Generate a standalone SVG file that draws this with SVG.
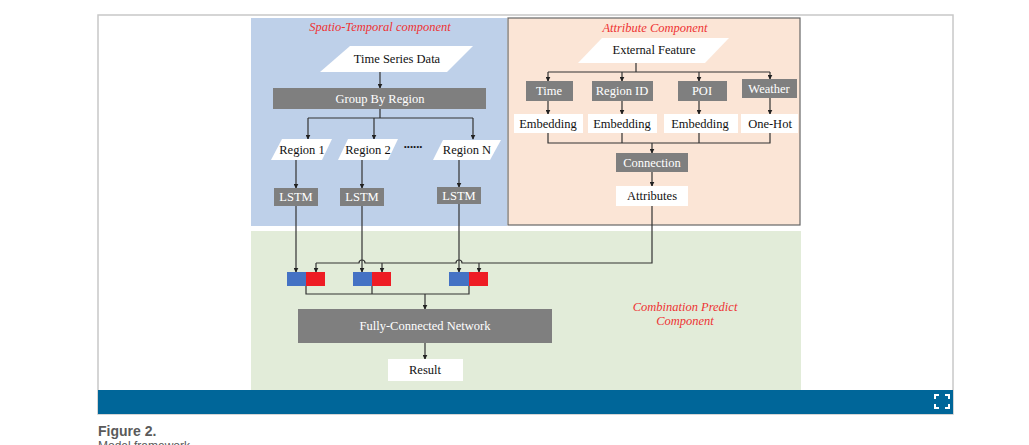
<svg xmlns="http://www.w3.org/2000/svg" width="1029" height="445" viewBox="0 0 1029 445">
<defs>
<marker id="ah" viewBox="0 0 8 8" refX="7" refY="4" markerWidth="5" markerHeight="5" orient="auto" markerUnits="userSpaceOnUse">
<path d="M0,0 L8,4 L0,8 z" fill="#222"/>
</marker>
<style>
.t{font-family:"Liberation Serif","Times New Roman",serif;font-size:12.5px;text-anchor:middle;fill:#111}
.w{fill:#fff}
.ttl{font-family:"Liberation Serif","Times New Roman",serif;font-size:12.5px;font-style:italic;text-anchor:middle;fill:#ee3333}
.g{fill:#7f7f7f}
.wb{fill:#fff}
.ln{fill:none;stroke:#333;stroke-width:1.2}
.ar{fill:none;stroke:#333;stroke-width:1.2;marker-end:url(#ah)}
.bl{fill:#4472c4}
.rd{fill:#ee1c24}
</style>
</defs>
<rect x="0" y="0" width="1029" height="445" fill="#fff"/>
<g id="frame">
<rect x="98" y="15" width="855" height="399" fill="#fff" stroke="#c8c8c8" stroke-width="1.5"/>
<rect x="98" y="390" width="855" height="24" fill="#006699"/>
<path d="M935,399 v-4 h4 M945,395 h4 v4 M949,404 v4 h-4 M939,408 h-4 v-4" fill="none" stroke="#fff" stroke-width="2"/>
</g>
<g id="panels">
<rect x="251" y="18" width="256" height="208" fill="#bed0e9"/>
<rect x="508" y="18" width="292" height="207" fill="#fbe5d6" stroke="#666" stroke-width="1.2"/>
<rect x="251" y="231" width="550" height="159" fill="#e2ecd9"/>
<text class="ttl" x="380" y="31">Spatio-Temporal component</text>
<text class="ttl" x="655" y="32">Attribute Component</text>
<text class="ttl" x="685" y="311">Combination Predict</text>
<text class="ttl" x="685" y="325">Component</text>
</g>
<g id="connectors">
<path class="ar" d="M380,72 V88"/>
<path class="ln" d="M380,109 V118 M308,118 H473"/>
<path class="ar" d="M308,118 V139"/>
<path class="ar" d="M374,118 V139"/>
<path class="ar" d="M473,118 V139"/>
<path class="ar" d="M296,160 V188"/>
<path class="ar" d="M362,160 V188"/>
<path class="ar" d="M459,160 V187"/>
<path class="ar" d="M296,206 V272"/>
<path class="ar" d="M362,206 V272"/>
<path class="ar" d="M459,204 V272"/>
<path class="ln" d="M652,206 V263 H462 A3,3 0 0 0 456,263 H365 A3,3 0 0 0 359,263 H316"/>
<path class="ar" d="M316,263 V272"/>
<path class="ar" d="M382,263 V272"/>
<path class="ar" d="M479,263 V272"/>
<path class="ln" d="M306,286 V294 H469 V286 M372,286 V294"/>
<path class="ar" d="M425,294 V309"/>
<path class="ar" d="M425,343 V359"/>
<path class="ln" d="M636,63 V72 M548,72 H770"/>
<path class="ar" d="M548,72 V81"/>
<path class="ar" d="M622,72 V81"/>
<path class="ar" d="M699,72 V81"/>
<path class="ar" d="M770,72 V79"/>
<path class="ar" d="M548,101 V114"/>
<path class="ar" d="M622,101 V114"/>
<path class="ar" d="M699,101 V114"/>
<path class="ar" d="M770,98 V114"/>
<path class="ln" d="M548,133 V143 H770 V133 M622,133 V143 M699,133 V143"/>
<path class="ar" d="M652,143 V153"/>
<path class="ar" d="M652,172 V186"/>
</g>
<g id="n-timeseries">
<polygon class="wb" points="350,46 473,46 447,72 320,72"/>
<text class="t" x="397" y="63">Time Series Data</text>
</g>
<g id="n-groupby">
<rect class="g" x="273" y="88" width="213" height="21"/>
<text class="t w" x="380" y="103">Group By Region</text>
</g>
<g id="n-region1">
<polygon class="wb" points="282,139 332,139 322,160 271,160"/>
<text class="t" x="302" y="154">Region 1</text>
</g>
<g id="n-region2">
<polygon class="wb" points="348,139 398,139 388,160 338,160"/>
<text class="t" x="368" y="154">Region 2</text>
</g>
<g id="n-dots">
<text class="t" x="413" y="148" font-weight="bold" font-size="14">......</text>
</g>
<g id="n-regionN">
<polygon class="wb" points="443,140 501,140 490,160 433,160"/>
<text class="t" x="467" y="154">Region N</text>
</g>
<g id="n-lstm1">
<rect class="g" x="274" y="188" width="44" height="18"/>
<text class="t w" x="296" y="201">LSTM</text>
</g>
<g id="n-lstm2">
<rect class="g" x="340" y="188" width="44" height="18"/>
<text class="t w" x="362" y="201">LSTM</text>
</g>
<g id="n-lstmN">
<rect class="g" x="437" y="187" width="44" height="17"/>
<text class="t w" x="459" y="200">LSTM</text>
</g>
<g id="n-ext">
<polygon class="wb" points="602,38 729,38 705,63 578,63"/>
<text class="t" x="654" y="54">External Feature</text>
</g>
<g id="n-time">
<rect class="g" x="526" y="81" width="47" height="20"/>
<text class="t w" x="549" y="95">Time</text>
</g>
<g id="n-regionid">
<rect class="g" x="592" y="81" width="61" height="20"/>
<text class="t w" x="622" y="95">Region ID</text>
</g>
<g id="n-poi">
<rect class="g" x="678" y="81" width="49" height="20"/>
<text class="t w" x="702" y="95">POI</text>
</g>
<g id="n-weather">
<rect class="g" x="742" y="79" width="55" height="19"/>
<text class="t w" x="769" y="93">Weather</text>
</g>
<g id="n-emb1">
<rect class="wb" x="514" y="114" width="69" height="19"/>
<text class="t" x="548" y="128">Embedding</text>
</g>
<g id="n-emb2">
<rect class="wb" x="588" y="114" width="69" height="19"/>
<text class="t" x="622" y="128">Embedding</text>
</g>
<g id="n-emb3">
<rect class="wb" x="664" y="114" width="74" height="19"/>
<text class="t" x="700" y="128">Embedding</text>
</g>
<g id="n-onehot">
<rect class="wb" x="741" y="114" width="57" height="19"/>
<text class="t" x="770" y="128">One-Hot</text>
</g>
<g id="n-connection">
<rect class="g" x="616" y="153" width="72" height="19"/>
<text class="t w" x="652" y="167">Connection</text>
</g>
<g id="n-attributes">
<rect class="wb" x="616" y="186" width="72" height="20"/>
<text class="t" x="652" y="200">Attributes</text>
</g>
<g id="n-pair1">
<rect class="bl" x="287" y="272" width="19" height="14"/>
<rect class="rd" x="306" y="272" width="19" height="14"/>
</g>
<g id="n-pair2">
<rect class="bl" x="353" y="272" width="19" height="14"/>
<rect class="rd" x="372" y="272" width="19" height="14"/>
</g>
<g id="n-pair3">
<rect class="bl" x="449" y="272" width="20" height="14"/>
<rect class="rd" x="469" y="272" width="19" height="14"/>
</g>
<g id="n-fc">
<rect class="g" x="298" y="309" width="254" height="34"/>
<text class="t w" x="425" y="330">Fully-Connected Network</text>
</g>
<g id="n-result">
<rect class="wb" x="388" y="359" width="75" height="22"/>
<text class="t" x="425" y="374">Result</text>
</g>
<g id="caption">
<text x="98" y="436" font-family="Liberation Sans, Arial, sans-serif" font-size="14" font-weight="bold" fill="#5a5a5a">Figure 2.</text>
<text x="98" y="450" font-family="Liberation Sans, Arial, sans-serif" font-size="12" fill="#5a5a5a">Model framework</text>
</g>
</svg>
